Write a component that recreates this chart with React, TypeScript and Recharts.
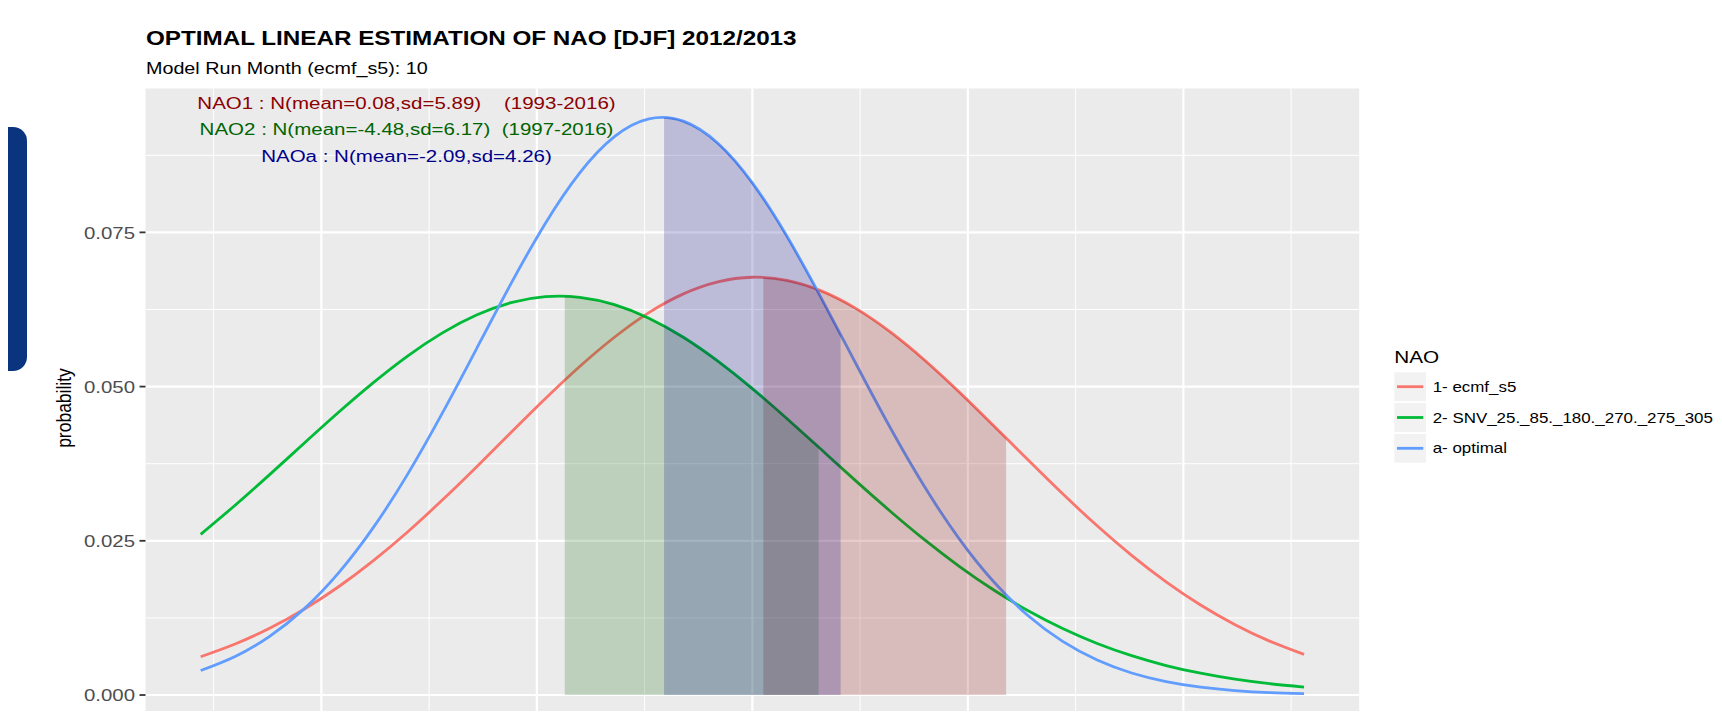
import { ComposedChart, Line, Area, XAxis, YAxis, CartesianGrid } from 'recharts';

const xGrid = [
  -12.8, -12.0, -11.2, -10.4, -9.6, -8.8, -8.0, -7.2, -6.4, -5.6, -4.8, -4.0, -3.2, -2.4, -1.6, -0.8, 0.0,
  0.8, 1.6, 2.4, 3.2, 4.0, 4.8, 5.6, 6.4, 7.2, 8.0, 8.8, 9.6, 10.4, 11.2, 12.0, 12.8,
];

// 1- ecmf_s5
const nao1Density = [
  0.0062, 0.00827, 0.01082, 0.01391, 0.01755, 0.02174, 0.02643, 0.03156, 0.03698, 0.04255, 0.04806, 0.05329,
  0.058, 0.06199, 0.06503, 0.06698, 0.06773, 0.06723, 0.06552, 0.06268, 0.05887, 0.05428, 0.04913, 0.04366,
  0.03809, 0.03262, 0.02743, 0.02264, 0.01835, 0.01459, 0.0114, 0.00874, 0.00658,
];
// 2- SNV_25._85._180._270._275_305
const nao2Density = [
  0.02605, 0.03077, 0.03573, 0.04081, 0.04583, 0.0506, 0.05495, 0.05867, 0.0616, 0.0636, 0.06457, 0.06446,
  0.06328, 0.06109, 0.05799, 0.05412, 0.04968, 0.04483, 0.03979, 0.03472, 0.0298, 0.02514, 0.02086, 0.01702,
  0.01366, 0.01078, 0.00836, 0.00638, 0.00478, 0.00353, 0.00256, 0.00183, 0.00128,
];
// a- optimal
const naoaDensity = [
  0.00397, 0.00626, 0.00952, 0.01397, 0.0198, 0.02709, 0.03577, 0.04561, 0.05613, 0.06669, 0.07649, 0.08469,
  0.09052, 0.0934, 0.09303, 0.08945, 0.08303, 0.0744, 0.06435, 0.05374, 0.04332, 0.03371, 0.02532, 0.01836,
  0.01285, 0.00869, 0.00567, 0.00357, 0.00217, 0.00127, 0.00072, 0.00039, 0.00021,
];

// shaded bands, mean to mean + sd
const nao1BandX = [0.256, 0.8, 1.6, 2.4, 3.2, 4.0, 4.8, 5.6, 5.888];
const nao1BandY = [0.0677, 0.06723, 0.06552, 0.06268, 0.05887, 0.05428, 0.04913, 0.04366, 0.04165];
const nao2BandX = [-4.352, -4.0, -3.2, -2.4, -1.6, -0.8, 0.0, 0.8, 1.536];
const nao2BandY = [0.06465, 0.06446, 0.06328, 0.06109, 0.05799, 0.05412, 0.04968, 0.04483, 0.0402];
const naoaBandX = [-2.048, -1.6, -0.8, 0.0, 0.8, 1.6, 2.048];
const naoaBandY = [0.09364, 0.09303, 0.08945, 0.08303, 0.0744, 0.06435, 0.05843];

const yTicks = [0, 0.025, 0.05, 0.075];
const yMinor = [0.0125, 0.0375, 0.0625, 0.0875];
const xTicks = [-10, -5, 0, 5, 10];
const xMinor = [-12.5, -7.5, -2.5, 2.5, 7.5, 12.5];

const seriesNames = ['1- ecmf_s5', '2- SNV_25._85._180._270._275_305', 'a- optimal'];
const lineColors = ['#F8766D', '#00BA38', '#619CFF'];
const bandColors = ['#8B0000', '#006400', '#00008B'];
const notes = [
  'NAO1 : N(mean=0.08,sd=5.89)    (1993-2016)',
  'NAO2 : N(mean=-4.48,sd=6.17)  (1997-2016)',
  'NAOa : N(mean=-2.09,sd=4.26)',
];

const toPoints = (xs: number[], ys: number[]) => xs.map((x, i) => ({ x, y: ys[i] }));

const curves = [toPoints(xGrid, nao1Density), toPoints(xGrid, nao2Density), toPoints(xGrid, naoaDensity)];
const bands = [toPoints(nao1BandX, nao1BandY), toPoints(nao2BandX, nao2BandY), toPoints(naoaBandX, naoaBandY)];

const FONT = '"Liberation Sans", Arial, Helvetica, sans-serif';
const SX = 1.2; // the picture is stretched sideways

function YTick(props: any) {
  const { x, y, payload } = props;
  return (
    <text
      transform={`translate(${x} ${y}) scale(${SX} 1)`}
      textAnchor='end'
      dy='0.36em'
      fontSize={17}
      fill='#4D4D4D'
      fontFamily={FONT}
    >
      {Number(payload.value).toFixed(3)}
    </text>
  );
}

function Txt({ x, y, size, children, bold, fill = '#000', anchor = 'start' }: any) {
  return (
    <text
      transform={`translate(${x} ${y}) scale(${SX} 1)`}
      fontSize={size}
      fontWeight={bold ? 700 : 400}
      fill={fill}
      textAnchor={anchor}
      fontFamily={FONT}
      style={{ whiteSpace: 'pre' }}
    >
      {children}
    </text>
  );
}

export default function App() {
  return (
    <div style={{ position: 'relative', width: 1722, height: 719, overflow: 'hidden', margin: -8, background: '#fff' }}>
      <div style={{ position: 'absolute', left: 0, top: 127, width: 27, height: 244, background: '#0A357E', borderRadius: '0 14px 14px 0' }} />

      <div style={{ position: 'absolute', left: 0, top: 0 }}>
        <ComposedChart width={1722} height={730} margin={{ top: 88.5, right: 362.8, bottom: 6.1, left: 85.5 }}>
          <CartesianGrid fill='#EBEBEB' stroke='#FFFFFF' strokeWidth={1} horizontalValues={yMinor} verticalValues={xMinor} />
          <CartesianGrid stroke='#FFFFFF' strokeWidth={2.2} horizontalValues={yTicks} verticalValues={xTicks} />
          <XAxis type='number' dataKey='x' domain={[-14.08, 14.08]} ticks={xTicks} allowDataOverflow hide />
          <YAxis
            type='number'
            dataKey='y'
            width={60}
            domain={[-0.004682, 0.098325]}
            ticks={yTicks}
            allowDataOverflow
            axisLine={false}
            tickSize={6}
            tickMargin={4.5}
            tickLine={{ stroke: '#333333', strokeWidth: 1.8 }}
            tick={<YTick />}
          />
          {curves.map((pts, i) => (
            <Line
              key={seriesNames[i]}
              data={pts}
              dataKey='y'
              type='natural'
              stroke={lineColors[i]}
              strokeWidth={2.8}
              dot={false}
              activeDot={false}
              isAnimationActive={false}
              zIndex={110}
            />
          ))}
          {bands.map((pts, i) => (
            <Area
              key={'band' + i}
              data={pts}
              dataKey='y'
              type='natural'
              baseValue={0}
              stroke='none'
              fill={bandColors[i]}
              fillOpacity={0.2}
              dot={false}
              activeDot={false}
              isAnimationActive={false}
              zIndex={130}
            />
          ))}
        </ComposedChart>
      </div>

      <svg width={1722} height={719} style={{ position: 'absolute', left: 0, top: 0, pointerEvents: 'none' }}>
        <Txt x={146} y={45} size={20.2} bold>OPTIMAL LINEAR ESTIMATION OF NAO [DJF] 2012/2013</Txt>
        <Txt x={146} y={74} size={16.45}>Model Run Month (ecmf_s5): 10</Txt>
        {notes.map((n, i) => (
          <Txt key={n} x={406.5} y={108.5 + i * 26.5} size={17.1} fill={bandColors[i]} anchor='middle'>
            {n}
          </Txt>
        ))}
        <text
          transform={`translate(64 408) scale(${SX} 1) rotate(-90)`}
          textAnchor='middle'
          dy='0.35em'
          fontSize={17.5}
          fontFamily={FONT}
          fill='#000'
        >
          probability
        </text>
        <Txt x={1394.3} y={363.3} size={17.3}>NAO</Txt>
        {seriesNames.map((n, i) => {
          const cy = 386.7 + i * 30.8;
          return (
            <g key={n}>
              <rect x={1394.3} y={cy - 14.4} width={31.7} height={28.8} fill='#F2F2F2' />
              <line x1={1397} x2={1423.3} y1={cy} y2={cy} stroke={lineColors[i]} strokeWidth={2.8} />
              <Txt x={1432.7} y={cy + 5} size={14.1}>{n}</Txt>
            </g>
          );
        })}
      </svg>
    </div>
  );
}
